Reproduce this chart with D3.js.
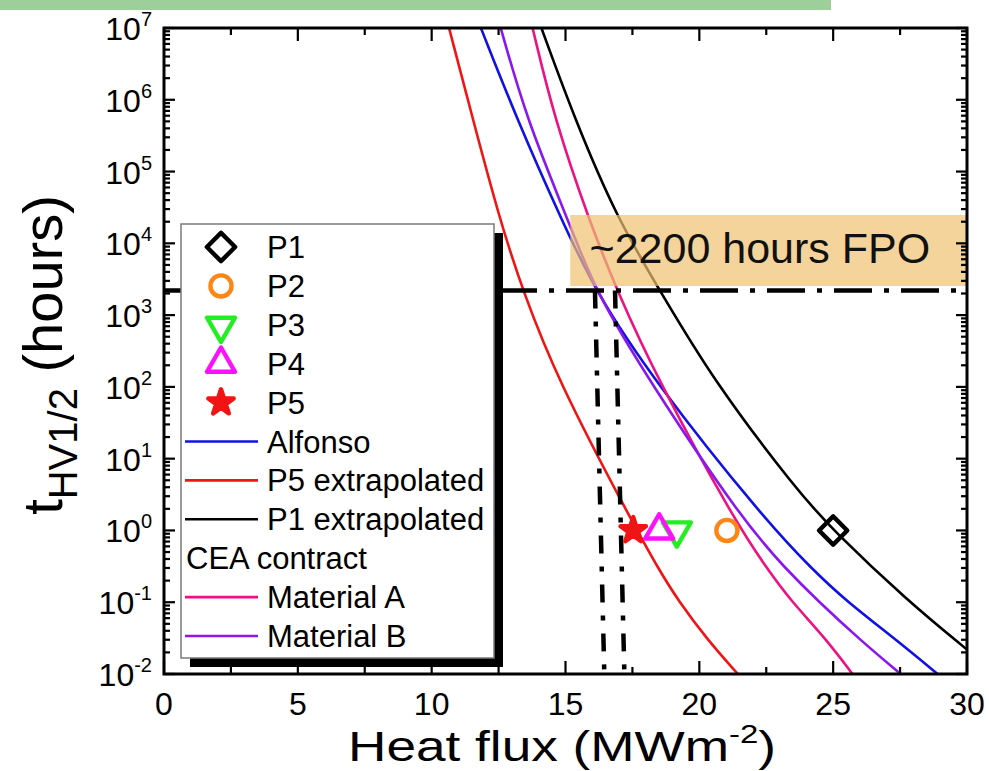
<!DOCTYPE html>
<html><head><meta charset="utf-8">
<script src="https://cdn.jsdelivr.net/npm/d3@7"></script>
<style>body{margin:0;background:#fff}svg{display:block;font-family:Arial,"Liberation Sans",sans-serif}</style>
</head><body><svg id="c" width="989" height="771"></svg>
<script>
// ---------- data ----------
const xTicks = [0, 5, 10, 15, 20, 25, 30];
const xMinorTicks = [2.5, 7.5, 12.5, 17.5, 22.5, 27.5];
const yExponents = [-2, -1, 0, 1, 2, 3, 4, 5, 6, 7];

// shared hour levels read for the four coloured curves
const hourLevels = [1e7, 5.2e5, 2.1e4, 2.2e3, 126, 1.4, 0.28, 0.107, 0.030, 0.01];
const alfonsoFlux   = [11.84, 13.2, 14.86, 16.1, 18.27, 22.45, 24.25, 25.45, 27.35, 28.9];
const p5ExtrapFlux  = [10.65, 11.55, 12.55, 13.4, 14.7, 17.45, 18.5, 19.2, 20.3, 21.44];
const materialAFlux = [13.77, 14.6, 15.88, 16.92, 18.45, 21.3, 22.57, 23.4, 24.76, 25.72];
const materialBFlux = [12.58, 13.56, 15.1, 16.1, 18.1, 21.6, 23.27, 24.4, 26.0, 27.52];
const p1ExtrapHours = [1e7, 5.2e5, 2.1e4, 2.2e3, 126, 3.6, 1, 0.107, 0.0219];
const p1ExtrapFlux  = [14.1, 15.36, 16.96, 18.53, 20.5, 23.65, 25.0, 27.75, 30];

const pointNames = ["P1", "P2", "P3", "P4", "P5"];
const pointFlux  = [25, 21.03, 19.16, 18.5, 17.53];
const pointHours = [1, 1, 1, 1, 1];

const fpoHours = 2200;
const fpoFluxTop = [16.1, 16.85];
const fpoFluxBottom = [16.45, 17.2];

// ---------- setup ----------
const svg = d3.select("#c");
const W = 989, H = 771;
const x = d3.scaleLinear().domain([0, 30]).range([164, 967]);
const y = d3.scaleLog().domain([1e-2, 1e7]).range([674, 28]);

svg.append("rect").attr("width", W).attr("height", H).attr("fill", "#fff");
svg.append("rect").attr("x", 0).attr("y", 0).attr("width", 831).attr("height", 10).attr("fill", "#9ccf99");

svg.append("clipPath").attr("id", "plot").append("rect")
  .attr("x", x(0)).attr("y", y(1e7)).attr("width", x(30) - x(0)).attr("height", y(1e-2) - y(1e7));

const curves = [
  {name: "Alfonso", color: "#1111e6", flux: alfonsoFlux, hours: hourLevels},
  {name: "P5 extrapolated", color: "#f01414", flux: p5ExtrapFlux, hours: hourLevels},
  {name: "P1 extrapolated", color: "#000000", flux: p1ExtrapFlux, hours: p1ExtrapHours},
  {name: "Material A", color: "#ec1283", flux: materialAFlux, hours: hourLevels},
  {name: "Material B", color: "#8a17f0", flux: materialBFlux, hours: hourLevels}
];

const line = d3.line().x(d => x(d[0])).y(d => y(d[1])).curve(d3.curveBasis);
const gCurves = svg.append("g").attr("clip-path", "url(#plot)");
curves.forEach(c => {
  const pts = c.flux.map((f, i) => [f, c.hours[i]]);
  gCurves.append("path").attr("d", line(pts)).attr("fill", "none")
    .attr("stroke", c.color).attr("stroke-width", 2.6);
});

// FPO band
svg.append("rect").attr("x", x(15.18)).attr("y", 215).attr("width", x(30) - x(15.18) - 1).attr("height", 71)
  .attr("fill", "#efc26f").attr("opacity", 0.7);
svg.append("text").attr("x", x(15.9)).attr("y", 263).attr("font-size", 43).attr("fill", "#111")
  .text("~2200 hours FPO");

// dash-dot lines
svg.append("line").attr("x1", x(0)).attr("x2", x(30)).attr("y1", y(fpoHours)).attr("y2", y(fpoHours))
  .attr("stroke", "#000").attr("stroke-width", 4.5).attr("stroke-dasharray", "38,12,5,12");
fpoFluxTop.forEach((f, i) => {
  svg.append("line").attr("x1", x(f)).attr("x2", x(fpoFluxBottom[i]))
    .attr("y1", y(fpoHours)).attr("y2", y(1e-2))
    .attr("stroke", "#000").attr("stroke-width", 4.5).attr("stroke-dasharray", "18,13,5,13");
});

// axes frame and ticks
const axisG = svg.append("g").attr("stroke", "#000").attr("stroke-width", 2.2);
xTicks.forEach(v => {
  axisG.append("line").attr("x1", x(v)).attr("x2", x(v)).attr("y1", y(1e-2)).attr("y2", y(1e-2) - 13);
  axisG.append("line").attr("x1", x(v)).attr("x2", x(v)).attr("y1", y(1e7)).attr("y2", y(1e7) + 13);
});
xMinorTicks.forEach(v => {
  axisG.append("line").attr("x1", x(v)).attr("x2", x(v)).attr("y1", y(1e-2)).attr("y2", y(1e-2) - 7);
  axisG.append("line").attr("x1", x(v)).attr("x2", x(v)).attr("y1", y(1e7)).attr("y2", y(1e7) + 7);
});
yExponents.forEach(e => {
  const v = Math.pow(10, e);
  [[x(0), 1], [x(30), -1]].forEach(([x0, s]) => {
    axisG.append("line").attr("x1", x0).attr("x2", x0 + s * 11).attr("y1", y(v)).attr("y2", y(v));
    if (e < 7) for (let k = 2; k <= 9; k++) {
      axisG.append("line").attr("x1", x0).attr("x2", x0 + s * 6).attr("y1", y(k * v)).attr("y2", y(k * v));
    }
  });
});
svg.append("rect").attr("x", x(0)).attr("y", y(1e7)).attr("width", x(30) - x(0)).attr("height", y(1e-2) - y(1e7))
  .attr("fill", "none").attr("stroke", "#000").attr("stroke-width", 3);

// tick labels
xTicks.forEach(v => {
  svg.append("text").attr("x", x(v)).attr("y", 715).attr("text-anchor", "middle").attr("font-size", 32).text(v);
});
yExponents.forEach(e => {
  const t = svg.append("text").attr("x", 152).attr("y", y(Math.pow(10, e)) + 12)
    .attr("text-anchor", "end").attr("font-size", 32);
  t.append("tspan").text("10");
  t.append("tspan").attr("font-size", 20).attr("dy", -14).text(e);
});

// axis titles
const xt = svg.append("text").attr("x", 562).attr("y", 761).attr("text-anchor", "middle").attr("font-size", 42)
  .attr("textLength", 428).attr("lengthAdjust", "spacingAndGlyphs");
xt.append("tspan").text("Heat flux (MWm");
xt.append("tspan").attr("font-size", 26).attr("dy", -18).text("-2");
xt.append("tspan").attr("dy", 18).text(")");

const yt = svg.append("text").attr("transform", "translate(62,355) rotate(-90)").attr("text-anchor", "middle").attr("font-size", 56);
yt.append("tspan").text("t");
yt.append("tspan").attr("font-size", 40).attr("dy", 15).text("HV1/2");
yt.append("tspan").attr("dy", -15).text(" (hours)");

// markers
const markerStyle = [
  {type: d3.symbolSquare, size: 400, rot: 45, color: "#000", fill: "none"},
  {type: d3.symbolCircle, size: 350, rot: 0, color: "#ff8515", fill: "none"},
  {type: d3.symbolTriangle, size: 340, rot: 180, color: "#22ee22", fill: "none"},
  {type: d3.symbolTriangle, size: 340, rot: 0, color: "#ff10ff", fill: "none"},
  {type: d3.symbolStar, size: 200, rot: 0, color: "#f01414", fill: "#f01414"}
];
function drawMarker(g, i, cx, cy) {
  const m = markerStyle[i];
  g.append("path").attr("d", d3.symbol().type(m.type).size(m.size)())
    .attr("transform", `translate(${cx},${cy}) rotate(${m.rot})`)
    .attr("fill", m.fill).attr("stroke", m.color).attr("stroke-width", 4.4).attr("stroke-linejoin", "round");
}
const gPts = svg.append("g");
pointNames.forEach((n, i) => drawMarker(gPts, i, x(pointFlux[i]), y(pointHours[i])));

// legend
const lg = svg.append("g");
lg.append("rect").attr("x", 190).attr("y", 233).attr("width", 313).attr("height", 434).attr("fill", "#000");
lg.append("rect").attr("x", 181).attr("y", 224).attr("width", 313).attr("height", 434)
  .attr("fill", "#fff").attr("stroke", "#7a7a7a").attr("stroke-width", 1.5);
const rowY = i => 247 + i * 38.9;
pointNames.forEach((n, i) => {
  drawMarker(lg, i, 221, rowY(i) + (i === 2 ? 1 : 0));
  lg.append("text").attr("x", 267).attr("y", rowY(i) + 11).attr("font-size", 31).text(n);
});
const legendLines = [
  {row: 5, c: curves[0]}, {row: 6, c: curves[1]}, {row: 7, c: curves[2]},
  {row: 9, c: curves[3]}, {row: 10, c: curves[4]}
];
legendLines.forEach(d => {
  lg.append("line").attr("x1", 185).attr("x2", 258).attr("y1", rowY(d.row)).attr("y2", rowY(d.row))
    .attr("stroke", d.c.color).attr("stroke-width", 2.6);
  lg.append("text").attr("x", 267).attr("y", rowY(d.row) + 11).attr("font-size", 31).text(d.c.name);
});
lg.append("text").attr("x", 186).attr("y", rowY(8) + 11).attr("font-size", 31).text("CEA contract");
</script></body></html>
